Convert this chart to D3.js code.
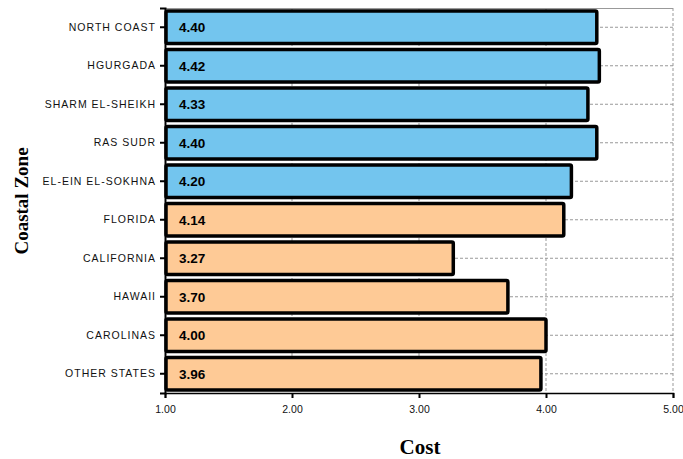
<!DOCTYPE html>
<html><head><meta charset="utf-8">
<script src="https://cdn.jsdelivr.net/npm/d3@7"></script>
<style>body{margin:0;background:#fff}svg{display:block}</style>
</head><body>
<script>
const categories = ["NORTH COAST","HGURGADA","SHARM EL-SHEIKH","RAS SUDR","EL-EIN EL-SOKHNA","FLORIDA","CALIFORNIA","HAWAII","CAROLINAS","OTHER STATES"];
const values = [4.40,4.42,4.33,4.40,4.20,4.14,3.27,3.70,4.00,3.96];
const groups = ["Egypt","Egypt","Egypt","Egypt","Egypt","USA","USA","USA","USA","USA"];
const xTicks = [1,2,3,4,5];

const W=683,H=459;
const m={top:8,left:165,right:10,bottom:66};
const svg=d3.select("body").append("svg").attr("width",W).attr("height",H);
const x=d3.scaleLinear().domain([1,5]).range([m.left,673]);
const y=d3.scaleBand().domain(categories).range([m.top,393]).paddingInner(0.08).paddingOuter(0.04);
const color=d3.scaleOrdinal().domain(["Egypt","USA"]).range(["#73C5EE","#FECA96"]);

const g=svg.append("g");
g.selectAll(".vg").data(xTicks.slice(1)).enter().append("line")
 .attr("x1",d=>x(d)).attr("x2",d=>x(d)).attr("y1",m.top).attr("y2",393)
 .attr("stroke","#999").attr("stroke-dasharray","3,2").attr("stroke-width",1);
g.selectAll(".hg").data(categories).enter().append("line")
 .attr("x1",m.left).attr("x2",673).attr("y1",d=>y(d)+y.bandwidth()/2).attr("y2",d=>y(d)+y.bandwidth()/2)
 .attr("stroke","#999").attr("stroke-dasharray","3,2").attr("stroke-width",1);
g.append("line").attr("x1",m.left).attr("x2",673).attr("y1",m.top+0.5).attr("y2",m.top+0.5).attr("stroke","#999");

g.selectAll(".bar").data(categories).enter().append("rect")
 .attr("x",x(1)+1).attr("y",(d)=>y(d)+1.5)
 .attr("width",(d,i)=>x(values[i])-x(1)-1).attr("height",y.bandwidth()-3)
 .attr("fill",(d,i)=>color(groups[i])).attr("stroke","#000").attr("stroke-width",3.5).attr("rx",1.5);

g.selectAll(".vl").data(categories).enter().append("text")
 .attr("x",x(1)+14).attr("y",d=>y(d)+y.bandwidth()/2+5)
 .attr("font-family","Liberation Sans Narrow, Arial Narrow, Liberation Sans, Arial").attr("font-weight","bold").attr("font-size",13.5)
 .attr("fill","#000").text((d,i)=>values[i].toFixed(2));

const yAx=svg.append("g").attr("transform",`translate(${m.left},0)`)
 .call(d3.axisLeft(y).tickSize(5).tickPadding(4));
yAx.select(".domain").attr("stroke","#000").attr("stroke-width",2);
yAx.selectAll(".tick line").attr("stroke","#000").attr("stroke-width",2);
yAx.selectAll("text").attr("font-family","Liberation Sans, Arial").attr("font-size",10.5).attr("fill","#111").style("letter-spacing","1px");

const xAx=svg.append("g").attr("transform","translate(0,393)")
 .call(d3.axisBottom(x).tickValues(xTicks).tickFormat(d3.format(".2f")).tickSize(5).tickPadding(8));
xAx.select(".domain").attr("stroke","#000").attr("stroke-width",1.5);
xAx.selectAll(".tick line").attr("stroke","#000").attr("stroke-width",2);
xAx.selectAll("text").attr("font-family","Liberation Sans, Arial").attr("font-size",10.5).attr("fill","#111");

svg.append("text").attr("x",420).attr("y",454).attr("text-anchor","middle")
 .attr("font-family","Liberation Serif, Times New Roman, serif").attr("font-weight","bold").attr("font-size",21).text("Cost");
svg.append("text").attr("transform","translate(28,201) rotate(-90)").attr("text-anchor","middle")
 .attr("font-family","Liberation Serif, Times New Roman, serif").attr("font-weight","bold").attr("font-size",19).text("Coastal Zone");
</script>
</body></html>
